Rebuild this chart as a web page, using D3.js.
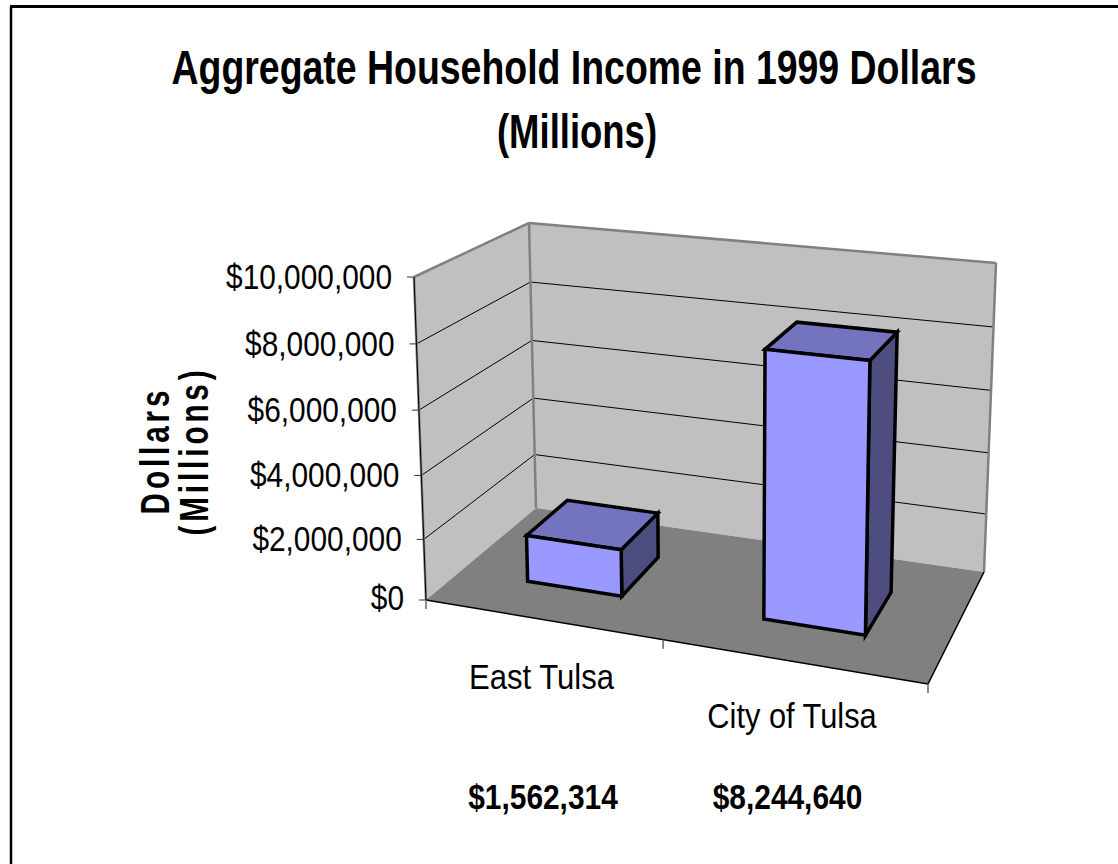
<!DOCTYPE html>
<html>
<head>
<meta charset="utf-8">
<title>Aggregate Household Income in 1999 Dollars</title>
<script src="https://cdn.jsdelivr.net/npm/d3@7"></script>
<style>
  html, body { margin: 0; padding: 0; background: #fff; }
  svg { display: block; }
  text { font-family: "Liberation Sans", Arial, sans-serif; fill: #000; }
</style>
</head>
<body>
<div id="chart"></div>
<script>
// data
const categories = ["East Tulsa", "City of Tulsa"];
const income = [1562314, 8244640];
const incomeLabels = ["$1,562,314", "$8,244,640"];
const yTicks = [0, 2000000, 4000000, 6000000, 8000000, 10000000];
const titleLines = ["Aggregate Household Income in 1999 Dollars", "(Millions)"];
const yTitleLines = ["Dollars", "(Millions)"];

const width = 1118, height = 864;

const svg = d3.select("#chart").append("svg")
    .attr("width", width)
    .attr("height", height);

// corners of the 3d box on screen (floor then ceiling, front then back)
const floorFL = [426, 600], floorFR = [928, 684], floorBL = [536, 508], floorBR = [984, 572];
const topFL = [414, 277], topFR = [935, 328], topBL = [529, 223], topBR = [996, 263];

// scales, they all output 0-1 positions inside the box
const y_scale = d3.scalePow().exponent(1.04).domain([0, 10000000]).range([0, 1]);
const x_band = d3.scaleBand().domain(categories).range([0, 1]).paddingInner(0.59).paddingOuter(0.32);
const x_warp = d3.scalePow().exponent(1.07).domain([0, 1]).range([0, 1]); // foreshortening along the front
const z_scale = d3.scaleLinear().domain([0, 1]).range([0.32, 0.715]); // bar depth in the box

function mix(a, b, t) { return [a[0] + (b[0] - a[0]) * t, a[1] + (b[1] - a[1]) * t]; }

// u along the categories, v up the value axis, w into the back
function project(u, v, w) {
  const floor = mix(mix(floorFL, floorFR, u), mix(floorBL, floorBR, u), w);
  const ceil = mix(mix(topFL, topFR, u), mix(topBL, topBR, u), w);
  return mix(floor, ceil, v);
}

const poly = d3.line();

function face(pts, fill, stroke, sw) {
  svg.append("path")
    .attr("d", poly(pts) + "Z")
    .attr("fill", fill)
    .attr("stroke", stroke || "none")
    .attr("stroke-width", sw || 0)
    .attr("stroke-linejoin", "miter");
}

function seg(a, b, color, sw) {
  svg.append("path")
    .attr("d", poly([a, b]))
    .attr("fill", "none")
    .attr("stroke", color)
    .attr("stroke-width", sw);
}

// squeezed text, the original was drawn with a narrow stretch
function label(str, x, y, size, opts) {
  opts = opts || {};
  const sx = opts.sx || 1;
  const rot = opts.rotate ? " rotate(-90)" : "";
  svg.append("text")
    .attr("transform", "translate(" + x + "," + y + ")" + rot + " scale(" + sx + ",1)")
    .attr("text-anchor", opts.anchor || "middle")
    .attr("font-size", size)
    .attr("font-weight", opts.bold ? "bold" : "normal")
    .attr("letter-spacing", opts.spacing || 0)
    .text(str);
}

// chart border, only top and left are in the picture
seg([11, height], [11, 6.5], "#000", 2.5);
seg([10, 6.5], [width, 6.5], "#000", 3);

// walls and floor
face([floorFL, floorBL, topBL, topFL], "#c0c0c0");
face([floorBL, floorBR, topBR, topBL], "#c0c0c0");
face([floorFL, floorFR, floorBR, floorBL], "#808080");

// gridlines
yTicks.slice(1, -1).forEach(function(t) {
  const v = y_scale(t);
  seg(project(0, v, 0), project(0, v, 1), "#000", 1);
  seg(project(0, v, 1), project(1, v, 1), "#000", 1);
});

// wall edges
seg(topFL, topBL, "#808080", 2.5);
seg(topBL, topBR, "#808080", 2.5);
seg(topBL, floorBL, "#808080", 2.5);
seg(topBR, floorBR, "#808080", 2.5);
seg(topFL, floorFL, "#808080", 2.5);
seg(topFL, floorFL, "#000", 1);
seg(floorFL, floorFR, "#000", 1.5);
seg(floorFR, floorBR, "#000", 1.5);

// ticks on the value axis with labels
yTicks.forEach(function(t) {
  const p = project(0, y_scale(t), 0);
  seg([p[0] - 7, p[1]], p, "#333", 1);
  label(d3.format("$,")(t), p[0] - 22, p[1] + (t === 0 ? 10 : 12), 35, {anchor: "end", sx: 0.853});
});

// ticks on the category axis
[0, 0.5, 1].forEach(function(t) {
  const p = project(x_warp(t) - (t === 0.5 ? 0.004 : 0), 0, 0);
  seg(p, [p[0], p[1] + 9], "#666", 1.5);
});

// bars, back faces are hidden so only front, top and side
categories.forEach(function(c, i) {
  const u0 = x_warp(x_band(c)), u1 = x_warp(x_band(c) + x_band.bandwidth());
  const w0 = z_scale(0), w1 = z_scale(1), v = y_scale(income[i]);
  face([project(u1, 0, w0), project(u1, 0, w1), project(u1, v, w1), project(u1, v, w0)], "#4d4d80", "#000", 3.5);
  face([project(u0, v, w0), project(u1, v, w0), project(u1, v, w1), project(u0, v, w1)], "#7373bf", "#000", 3.5);
  face([project(u0, 0, w0), project(u1, 0, w0), project(u1, v, w0), project(u0, v, w0)], "#9999ff", "#000", 3.5);
});

// titles
label(titleLines[0], 574, 84, 48, {bold: true, sx: 0.78});
label(titleLines[1], 577, 148, 48, {bold: true, sx: 0.76});
label(yTitleLines[0], 169, 450.5, 40, {bold: true, rotate: true, spacing: 5.3, sx: 0.74});
label(yTitleLines[1], 208, 451, 40, {bold: true, rotate: true, spacing: 5.3, sx: 0.74});

// category names and value labels under the floor
label(categories[0], 541.5, 689, 35, {sx: 0.888});
label(categories[1], 792, 728, 35, {sx: 0.88});
label(incomeLabels[0], 543, 809, 36, {bold: true, sx: 0.83});
label(incomeLabels[1], 787.5, 809, 36, {bold: true, sx: 0.83});
</script>
</body>
</html>
